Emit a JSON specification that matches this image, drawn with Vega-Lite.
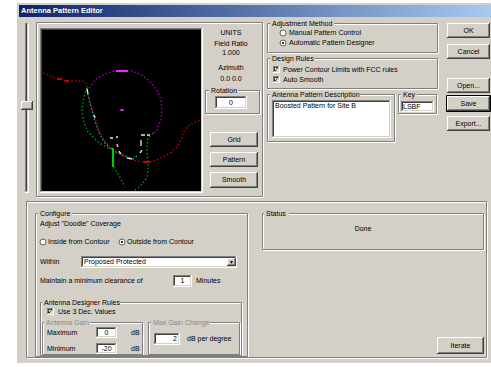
{
  "$schema": "https://vega.github.io/schema/vega-lite/v6.json",
  "width": 491,
  "height": 367,
  "autosize": {"type": "fit", "contains": "padding"},
  "padding": 0,
  "background": "#ffffff",
  "config": {"view": {"stroke": null}},
  "datasets": {
    "panes": [
      {"k": "window", "x": 17, "x2": 491, "y": 3, "y2": 363},
      {"k": "title", "x": 19, "x2": 491, "y": 5, "y2": 17},
      {"k": "lbg", "x": 209, "x2": 238, "y": 87, "y2": 94},
      {"k": "lbg", "x": 270, "x2": 334, "y": 20, "y2": 27},
      {"k": "lbg", "x": 270, "x2": 314, "y": 55, "y2": 62},
      {"k": "lbg", "x": 270, "x2": 360, "y": 91, "y2": 98},
      {"k": "lbg", "x": 401, "x2": 417, "y": 91, "y2": 98},
      {"k": "lbg", "x": 38, "x2": 72, "y": 210, "y2": 217},
      {"k": "lbg", "x": 42, "x2": 120, "y": 299, "y2": 306},
      {"k": "lbg", "x": 44, "x2": 90, "y": 319, "y2": 326},
      {"k": "lbg", "x": 151, "x2": 210, "y": 319, "y2": 326},
      {"k": "lbg", "x": 264, "x2": 289, "y": 210, "y2": 217}
    ],
    "frames": [
      {"x": 36.5, "x2": 262.5, "y": 22.5, "y2": 196.5},
      {"x": 205.5, "x2": 259.5, "y": 90.5, "y2": 113.5},
      {"x": 267.5, "x2": 437.5, "y": 23.5, "y2": 52.5},
      {"x": 267.5, "x2": 437.5, "y": 58.5, "y2": 88.5},
      {"x": 267.5, "x2": 394.5, "y": 94.5, "y2": 141.5},
      {"x": 398.5, "x2": 436.5, "y": 94.5, "y2": 113.5},
      {"x": 26.5, "x2": 486.5, "y": 201.5, "y2": 357.5},
      {"x": 35.5, "x2": 247.5, "y": 213.5, "y2": 356.5},
      {"x": 40.5, "x2": 241.5, "y": 302.5, "y2": 355.5},
      {"x": 42.5, "x2": 142.5, "y": 322.5, "y2": 354.5},
      {"x": 148.5, "x2": 239.5, "y": 322.5, "y2": 354.5},
      {"x": 262.5, "x2": 483.5, "y": 213.5, "y2": 249.5}
    ],
    "sunken": [
      {"k": "b", "x": 40, "x2": 203, "y": 28, "y2": 193},
      {"k": "w", "x": 215, "x2": 247, "y": 96, "y2": 109},
      {"k": "w", "x": 272, "x2": 391, "y": 100, "y2": 138},
      {"k": "w", "x": 401, "x2": 434, "y": 101, "y2": 112},
      {"k": "w", "x": 81, "x2": 237, "y": 256, "y2": 268},
      {"k": "w", "x": 173, "x2": 192, "y": 275, "y2": 287},
      {"k": "w", "x": 96, "x2": 117, "y": 327, "y2": 338},
      {"k": "w", "x": 96, "x2": 117, "y": 343, "y2": 354},
      {"k": "w", "x": 154, "x2": 180, "y": 333, "y2": 345},
      {"k": "w", "x": 273, "x2": 280, "y": 66, "y2": 73},
      {"k": "w", "x": 273, "x2": 280, "y": 76, "y2": 83},
      {"k": "w", "x": 47, "x2": 54, "y": 308, "y2": 315},
      {"k": "g", "x": 25, "x2": 29, "y": 23, "y2": 193}
    ],
    "raised": [
      {"x": 447, "x2": 490, "y": 23, "y2": 38},
      {"x": 447, "x2": 490, "y": 44, "y2": 59},
      {"x": 447, "x2": 490, "y": 78, "y2": 93},
      {"x": 447, "x2": 490, "y": 96, "y2": 111},
      {"x": 447, "x2": 490, "y": 116, "y2": 131},
      {"x": 210, "x2": 258, "y": 132, "y2": 147},
      {"x": 210, "x2": 258, "y": 152, "y2": 167},
      {"x": 210, "x2": 258, "y": 172, "y2": 188},
      {"x": 437, "x2": 484, "y": 337, "y2": 354},
      {"x": 227, "x2": 236, "y": 258, "y2": 266},
      {"x": 21, "x2": 33, "y": 101, "y2": 110}
    ],
    "focus": [
      {"x": 446.5, "x2": 490.5, "y": 95.5, "y2": 111.5}
    ],
    "radios": [
      {"x": 283, "y": 33, "s": 0},
      {"x": 283, "y": 43, "s": 1},
      {"x": 43, "y": 242, "s": 0},
      {"x": 122, "y": 242, "s": 1}
    ],
    "checks": [
      {"x": 276.5, "y": 69.5},
      {"x": 276.5, "y": 79.5},
      {"x": 50.5, "y": 311.5}
    ],
    "arrows": [
      {"x": 231.5, "y": 262.5}
    ],
    "texts": [
      {"t": "Antenna Pattern Editor", "x": 21, "y": 11, "a": "l", "k": "w"},
      {"t": "Rotation", "x": 211, "y": 90.5, "a": "l", "k": "n"},
      {"t": "Adjustment Method", "x": 272, "y": 23.5, "a": "l", "k": "n"},
      {"t": "Design Rules", "x": 272, "y": 58.5, "a": "l", "k": "n"},
      {"t": "Antenna Pattern Description", "x": 272, "y": 94.5, "a": "l", "k": "n"},
      {"t": "Key", "x": 403, "y": 94.5, "a": "l", "k": "n"},
      {"t": "Configure", "x": 40, "y": 213.5, "a": "l", "k": "n"},
      {"t": "Antenna Designer Rules", "x": 44, "y": 302.5, "a": "l", "k": "n"},
      {"t": "Antenna Gain", "x": 46, "y": 322.5, "a": "l", "k": "d"},
      {"t": "Max Gain Change", "x": 153, "y": 322.5, "a": "l", "k": "d"},
      {"t": "Status", "x": 266, "y": 213.5, "a": "l", "k": "n"},
      {"t": "Manual Pattern Control", "x": 289, "y": 33, "a": "l", "k": "n"},
      {"t": "Automatic Pattern Designer", "x": 289, "y": 43, "a": "l", "k": "n"},
      {"t": "Power Contour Limits with FCC rules", "x": 283, "y": 70, "a": "l", "k": "n"},
      {"t": "Auto Smooth", "x": 283, "y": 80, "a": "l", "k": "n"},
      {"t": "Boosted Pattern for Site B", "x": 275, "y": 106, "a": "l", "k": "n"},
      {"t": "LSBF", "x": 403, "y": 106.5, "a": "l", "k": "n"},
      {"t": "Adjust \"Doodle\" Coverage", "x": 40, "y": 224, "a": "l", "k": "n"},
      {"t": "Inside from Contour", "x": 48, "y": 242, "a": "l", "k": "n"},
      {"t": "Outside from Contour", "x": 127, "y": 242, "a": "l", "k": "n"},
      {"t": "Within", "x": 40, "y": 262, "a": "l", "k": "n"},
      {"t": "Proposed Protected", "x": 84, "y": 262, "a": "l", "k": "n"},
      {"t": "Maintain a minimum clearance of", "x": 40, "y": 281, "a": "l", "k": "n"},
      {"t": "Minutes", "x": 196, "y": 281, "a": "l", "k": "n"},
      {"t": "Use 3 Dec. Values", "x": 58, "y": 311.5, "a": "l", "k": "n"},
      {"t": "Maximum", "x": 47, "y": 333, "a": "l", "k": "n"},
      {"t": "dB", "x": 131, "y": 333, "a": "l", "k": "n"},
      {"t": "Minimum", "x": 47, "y": 349, "a": "l", "k": "n"},
      {"t": "dB", "x": 131, "y": 349, "a": "l", "k": "n"},
      {"t": "dB per degree", "x": 187, "y": 339, "a": "l", "k": "n"},
      {"t": "UNITS", "x": 231, "y": 33, "a": "c", "k": "n"},
      {"t": "Field Ratio", "x": 231, "y": 44, "a": "c", "k": "n"},
      {"t": "1.000", "x": 231, "y": 53, "a": "c", "k": "n"},
      {"t": "Azimuth", "x": 231, "y": 68, "a": "c", "k": "n"},
      {"t": "0.0     0.0", "x": 231, "y": 78.5, "a": "c", "k": "n"},
      {"t": "0", "x": 231, "y": 102.5, "a": "c", "k": "n"},
      {"t": "Grid", "x": 234, "y": 139.5, "a": "c", "k": "n"},
      {"t": "Pattern", "x": 234, "y": 159.5, "a": "c", "k": "n"},
      {"t": "Smooth", "x": 234, "y": 180, "a": "c", "k": "n"},
      {"t": "OK", "x": 468.5, "y": 30.5, "a": "c", "k": "n"},
      {"t": "Cancel", "x": 468.5, "y": 51.5, "a": "c", "k": "n"},
      {"t": "Open...", "x": 468.5, "y": 85.5, "a": "c", "k": "n"},
      {"t": "Save", "x": 468.5, "y": 103.5, "a": "c", "k": "n"},
      {"t": "Export...", "x": 468.5, "y": 123.5, "a": "c", "k": "n"},
      {"t": "1", "x": 182.5, "y": 281, "a": "c", "k": "n"},
      {"t": "0", "x": 106.5, "y": 332.5, "a": "c", "k": "n"},
      {"t": "-20", "x": 106.5, "y": 348.5, "a": "c", "k": "n"},
      {"t": "Done", "x": 363, "y": 229, "a": "c", "k": "n"},
      {"t": "Iterate", "x": 460.5, "y": 345.5, "a": "c", "k": "n"},
      {"t": "2", "x": 177, "y": 339, "a": "r", "k": "n"}
    ],
    "traces": [
      {"s": "m", "c": "m", "d": "dot", "o": 1, "x": 89, "y": 88},
      {"s": "m", "c": "m", "d": "dot", "o": 2, "x": 96, "y": 79},
      {"s": "m", "c": "m", "d": "dot", "o": 3, "x": 105, "y": 74},
      {"s": "m", "c": "m", "d": "dot", "o": 4, "x": 115, "y": 71},
      {"s": "m", "c": "m", "d": "dot", "o": 5, "x": 122, "y": 70},
      {"s": "m", "c": "m", "d": "dot", "o": 6, "x": 132, "y": 71},
      {"s": "m", "c": "m", "d": "dot", "o": 7, "x": 142, "y": 75},
      {"s": "m", "c": "m", "d": "dot", "o": 8, "x": 150, "y": 82},
      {"s": "m", "c": "m", "d": "dot", "o": 9, "x": 157, "y": 90},
      {"s": "m", "c": "m", "d": "dot", "o": 10, "x": 161, "y": 100},
      {"s": "m", "c": "m", "d": "dot", "o": 11, "x": 162, "y": 110},
      {"s": "m", "c": "m", "d": "dot", "o": 12, "x": 161, "y": 120},
      {"s": "m", "c": "m", "d": "dot", "o": 13, "x": 157, "y": 130},
      {"s": "m", "c": "m", "d": "dot", "o": 14, "x": 153, "y": 134},
      {"s": "r1", "c": "r", "d": "dot", "o": 1, "x": 43, "y": 73},
      {"s": "r1", "c": "r", "d": "dot", "o": 2, "x": 48, "y": 75},
      {"s": "r1", "c": "r", "d": "dot", "o": 3, "x": 53, "y": 77},
      {"s": "r1", "c": "r", "d": "dot", "o": 4, "x": 60, "y": 79},
      {"s": "r1", "c": "r", "d": "dot", "o": 5, "x": 67, "y": 81},
      {"s": "r1", "c": "r", "d": "dot", "o": 6, "x": 75, "y": 81},
      {"s": "r1", "c": "r", "d": "dot", "o": 7, "x": 83, "y": 81},
      {"s": "r1", "c": "r", "d": "dot", "o": 8, "x": 87, "y": 85},
      {"s": "r1", "c": "r", "d": "dot", "o": 9, "x": 87, "y": 88},
      {"s": "r2", "c": "r", "d": "dot", "o": 1, "x": 87, "y": 88},
      {"s": "r2", "c": "r", "d": "dot", "o": 2, "x": 89, "y": 98},
      {"s": "r2", "c": "r", "d": "dot", "o": 3, "x": 92, "y": 108},
      {"s": "r2", "c": "r", "d": "dot", "o": 4, "x": 95, "y": 118},
      {"s": "r2", "c": "r", "d": "dot", "o": 5, "x": 99, "y": 130},
      {"s": "r2", "c": "r", "d": "dot", "o": 6, "x": 104, "y": 140},
      {"s": "r2", "c": "r", "d": "dot", "o": 7, "x": 110, "y": 148},
      {"s": "r2", "c": "r", "d": "dot", "o": 8, "x": 117, "y": 152},
      {"s": "r2", "c": "r", "d": "dot", "o": 9, "x": 124, "y": 156},
      {"s": "r2", "c": "r", "d": "dot", "o": 10, "x": 133, "y": 160},
      {"s": "r2", "c": "r", "d": "dot", "o": 11, "x": 142, "y": 162},
      {"s": "r4", "c": "r", "d": "dot", "o": 1, "x": 150, "y": 162},
      {"s": "r4", "c": "r", "d": "dot", "o": 2, "x": 157, "y": 160},
      {"s": "r4", "c": "r", "d": "dot", "o": 3, "x": 163, "y": 157},
      {"s": "r4", "c": "r", "d": "dot", "o": 4, "x": 170, "y": 153},
      {"s": "r4", "c": "r", "d": "dot", "o": 5, "x": 177, "y": 147},
      {"s": "r4", "c": "r", "d": "dot", "o": 6, "x": 182, "y": 138},
      {"s": "r4", "c": "r", "d": "dot", "o": 7, "x": 183, "y": 133},
      {"s": "r4", "c": "r", "d": "dot", "o": 8, "x": 187, "y": 127},
      {"s": "r4", "c": "r", "d": "dot", "o": 9, "x": 193, "y": 123},
      {"s": "r4", "c": "r", "d": "dot", "o": 10, "x": 200, "y": 120},
      {"s": "cy", "c": "cy", "d": "dot", "o": 1, "x": 87, "y": 90},
      {"s": "cy", "c": "cy", "d": "dot", "o": 2, "x": 89, "y": 100},
      {"s": "cy", "c": "cy", "d": "dot", "o": 3, "x": 92, "y": 110},
      {"s": "cy", "c": "cy", "d": "dot", "o": 4, "x": 94, "y": 118},
      {"s": "cy", "c": "cy", "d": "dot", "o": 5, "x": 97, "y": 127},
      {"s": "cy", "c": "cy", "d": "dot", "o": 6, "x": 100, "y": 135},
      {"s": "cy", "c": "cy", "d": "dot", "o": 7, "x": 105, "y": 143},
      {"s": "cy", "c": "cy", "d": "dot", "o": 8, "x": 112, "y": 150},
      {"s": "cy", "c": "cy", "d": "dot", "o": 9, "x": 120, "y": 154},
      {"s": "cy", "c": "cy", "d": "dot", "o": 10, "x": 127, "y": 157},
      {"s": "cy", "c": "cy", "d": "dot", "o": 11, "x": 133, "y": 159},
      {"s": "cy", "c": "cy", "d": "dot", "o": 12, "x": 138, "y": 155},
      {"s": "g1", "c": "g", "d": "dot", "o": 1, "x": 87, "y": 88},
      {"s": "g1", "c": "g", "d": "dot", "o": 2, "x": 85, "y": 93},
      {"s": "g1", "c": "g", "d": "dot", "o": 3, "x": 83, "y": 102},
      {"s": "g1", "c": "g", "d": "dot", "o": 4, "x": 82, "y": 110},
      {"s": "g1", "c": "g", "d": "dot", "o": 5, "x": 83, "y": 118},
      {"s": "g1", "c": "g", "d": "dot", "o": 6, "x": 85, "y": 125},
      {"s": "g1", "c": "g", "d": "dot", "o": 7, "x": 88, "y": 132},
      {"s": "g1", "c": "g", "d": "dot", "o": 8, "x": 93, "y": 137},
      {"s": "g1", "c": "g", "d": "dot", "o": 9, "x": 98, "y": 142},
      {"s": "g1", "c": "g", "d": "dot", "o": 10, "x": 103, "y": 145},
      {"s": "g1", "c": "g", "d": "dot", "o": 11, "x": 108, "y": 148},
      {"s": "g1", "c": "g", "d": "dot", "o": 12, "x": 113, "y": 149},
      {"s": "g3", "c": "g", "d": "dot", "o": 1, "x": 114, "y": 167},
      {"s": "g3", "c": "g", "d": "dot", "o": 2, "x": 118, "y": 174},
      {"s": "g3", "c": "g", "d": "dot", "o": 3, "x": 123, "y": 183},
      {"s": "g3", "c": "g", "d": "dot", "o": 4, "x": 125, "y": 187},
      {"s": "g4", "c": "g", "d": "dot", "o": 1, "x": 153, "y": 133},
      {"s": "g4", "c": "g", "d": "dot", "o": 2, "x": 148, "y": 138},
      {"s": "g4", "c": "g", "d": "dot", "o": 3, "x": 147, "y": 147},
      {"s": "g4", "c": "g", "d": "dot", "o": 4, "x": 147, "y": 153},
      {"s": "g4", "c": "g", "d": "dot", "o": 5, "x": 148, "y": 162},
      {"s": "g4", "c": "g", "d": "dot", "o": 6, "x": 148, "y": 170},
      {"s": "g4", "c": "g", "d": "dot", "o": 7, "x": 147, "y": 177},
      {"s": "g4", "c": "g", "d": "dot", "o": 8, "x": 143, "y": 183},
      {"s": "g4", "c": "g", "d": "dot", "o": 9, "x": 138, "y": 188},
      {"s": "g4", "c": "g", "d": "dot", "o": 10, "x": 134, "y": 191},
      {"s": "w1", "c": "w", "d": "solid", "o": 1, "x": 110, "y": 138},
      {"s": "w1", "c": "w", "d": "solid", "o": 2, "x": 113, "y": 138},
      {"s": "w2", "c": "w", "d": "solid", "o": 1, "x": 116, "y": 137},
      {"s": "w2", "c": "w", "d": "solid", "o": 2, "x": 118, "y": 137},
      {"s": "w3", "c": "w", "d": "solid", "o": 1, "x": 117, "y": 144},
      {"s": "w3", "c": "w", "d": "solid", "o": 2, "x": 118, "y": 147},
      {"s": "w4", "c": "w", "d": "solid", "o": 1, "x": 119, "y": 151},
      {"s": "w4", "c": "w", "d": "solid", "o": 2, "x": 121, "y": 154},
      {"s": "w5", "c": "w", "d": "solid", "o": 1, "x": 127, "y": 158},
      {"s": "w5", "c": "w", "d": "solid", "o": 2, "x": 132, "y": 159},
      {"s": "w6", "c": "w", "d": "solid", "o": 1, "x": 140, "y": 153},
      {"s": "w6", "c": "w", "d": "solid", "o": 2, "x": 142, "y": 150},
      {"s": "w7", "c": "w", "d": "solid", "o": 1, "x": 141, "y": 140},
      {"s": "w7", "c": "w", "d": "solid", "o": 2, "x": 141, "y": 146},
      {"s": "w8", "c": "w", "d": "solid", "o": 1, "x": 141, "y": 135},
      {"s": "w8", "c": "w", "d": "solid", "o": 2, "x": 145, "y": 135},
      {"s": "w9", "c": "w", "d": "solid", "o": 1, "x": 147, "y": 135},
      {"s": "w9", "c": "w", "d": "solid", "o": 2, "x": 150, "y": 135},
      {"s": "w10", "c": "w", "d": "solid", "o": 1, "x": 87, "y": 89},
      {"s": "w10", "c": "w", "d": "solid", "o": 2, "x": 88, "y": 94},
      {"s": "w11", "c": "w", "d": "solid", "o": 1, "x": 94, "y": 115},
      {"s": "w11", "c": "w", "d": "solid", "o": 2, "x": 95, "y": 118},
      {"s": "b1", "c": "mb", "d": "bar", "o": 1, "x": 116, "y": 71},
      {"s": "b1", "c": "mb", "d": "bar", "o": 2, "x": 128, "y": 71},
      {"s": "b2", "c": "gb", "d": "bar", "o": 1, "x": 113, "y": 148},
      {"s": "b2", "c": "gb", "d": "bar", "o": 2, "x": 113, "y": 167},
      {"s": "b3", "c": "r", "d": "bar", "o": 1, "x": 143, "y": 162},
      {"s": "b3", "c": "r", "d": "bar", "o": 2, "x": 150, "y": 162},
      {"s": "b4", "c": "r", "d": "bar", "o": 1, "x": 57, "y": 79},
      {"s": "b4", "c": "r", "d": "bar", "o": 2, "x": 62, "y": 79},
      {"s": "b5", "c": "r", "d": "bar", "o": 1, "x": 65, "y": 81},
      {"s": "b5", "c": "r", "d": "bar", "o": 2, "x": 69, "y": 81},
      {"s": "b6", "c": "mb", "d": "bar", "o": 1, "x": 120.5, "y": 110},
      {"s": "b6", "c": "mb", "d": "bar", "o": 2, "x": 123.5, "y": 110}
    ]
  },
  "encoding": {
    "x": {"field": "x", "type": "quantitative", "scale": {"domain": [0, 491], "nice": false, "zero": false}, "axis": null},
    "y": {"field": "y", "type": "quantitative", "scale": {"domain": [0, 367], "nice": false, "zero": false, "reverse": true}, "axis": null}
  },
  "layer": [
    {
      "data": {"name": "panes"},
      "transform": [{"filter": "datum.k === 'window'"}],
      "mark": {"type": "rect", "fill": "#d4d0c8"},
      "encoding": {"x2": {"field": "x2"}, "y2": {"field": "y2"}}
    },
    {
      "data": {"name": "panes"},
      "transform": [{"filter": "datum.k === 'title'"}],
      "mark": {"type": "rect", "fill": {"gradient": "linear", "x1": 0, "y1": 0, "x2": 1, "y2": 0, "stops": [{"offset": 0, "color": "#0a246a"}, {"offset": 1, "color": "#a6caf0"}]}},
      "encoding": {"x2": {"field": "x2"}, "y2": {"field": "y2"}}
    },
    {
      "data": {"name": "frames"},
      "mark": {"type": "rect", "filled": false, "stroke": "#ffffff", "strokeWidth": 1, "xOffset": 1, "yOffset": 1, "x2Offset": 1, "y2Offset": 1},
      "encoding": {"x2": {"field": "x2"}, "y2": {"field": "y2"}}
    },
    {
      "data": {"name": "frames"},
      "mark": {"type": "rect", "filled": false, "stroke": "#808080", "strokeWidth": 1},
      "encoding": {"x2": {"field": "x2"}, "y2": {"field": "y2"}}
    },
    {
      "data": {"name": "panes"},
      "transform": [{"filter": "datum.k === 'lbg'"}],
      "mark": {"type": "rect", "fill": "#d4d0c8"},
      "encoding": {"x2": {"field": "x2"}, "y2": {"field": "y2"}}
    },
    {
      "data": {"name": "sunken"},
      "mark": {"type": "rect", "fill": "#ffffff"},
      "encoding": {"x2": {"field": "x2"}, "y2": {"field": "y2"}}
    },
    {
      "data": {"name": "sunken"},
      "mark": {"type": "rect", "fill": "#808080", "x2Offset": -1, "y2Offset": -1},
      "encoding": {"x2": {"field": "x2"}, "y2": {"field": "y2"}}
    },
    {
      "data": {"name": "sunken"},
      "mark": {"type": "rect", "fill": "#d4d0c8", "xOffset": 1, "yOffset": 1, "x2Offset": -1, "y2Offset": -1},
      "encoding": {"x2": {"field": "x2"}, "y2": {"field": "y2"}}
    },
    {
      "data": {"name": "sunken"},
      "mark": {"type": "rect", "fill": "#404040", "xOffset": 1, "yOffset": 1, "x2Offset": -2, "y2Offset": -2},
      "encoding": {"x2": {"field": "x2"}, "y2": {"field": "y2"}}
    },
    {
      "data": {"name": "sunken"},
      "mark": {"type": "rect", "xOffset": 2, "yOffset": 2, "x2Offset": -2, "y2Offset": -2},
      "encoding": {
        "x2": {"field": "x2"},
        "y2": {"field": "y2"},
        "fill": {"field": "k", "type": "nominal", "scale": {"domain": ["w", "b", "g"], "range": ["#ffffff", "#000000", "#d4d0c8"]}, "legend": null}
      }
    },
    {
      "data": {"name": "raised"},
      "mark": {"type": "rect", "fill": "#404040"},
      "encoding": {"x2": {"field": "x2"}, "y2": {"field": "y2"}}
    },
    {
      "data": {"name": "raised"},
      "mark": {"type": "rect", "fill": "#ffffff", "x2Offset": -1, "y2Offset": -1},
      "encoding": {"x2": {"field": "x2"}, "y2": {"field": "y2"}}
    },
    {
      "data": {"name": "raised"},
      "mark": {"type": "rect", "fill": "#808080", "xOffset": 1, "yOffset": 1, "x2Offset": -1, "y2Offset": -1},
      "encoding": {"x2": {"field": "x2"}, "y2": {"field": "y2"}}
    },
    {
      "data": {"name": "raised"},
      "mark": {"type": "rect", "fill": "#d4d0c8", "xOffset": 1, "yOffset": 1, "x2Offset": -2, "y2Offset": -2},
      "encoding": {"x2": {"field": "x2"}, "y2": {"field": "y2"}}
    },
    {
      "data": {"name": "focus"},
      "mark": {"type": "rect", "filled": false, "stroke": "#000000", "strokeWidth": 1},
      "encoding": {"x2": {"field": "x2"}, "y2": {"field": "y2"}}
    },
    {
      "data": {"name": "radios"},
      "mark": {"type": "point", "shape": "circle", "size": 36, "filled": true, "fill": "#ffffff", "stroke": "#606060", "strokeWidth": 1, "opacity": 1}
    },
    {
      "data": {"name": "radios"},
      "transform": [{"filter": "datum.s === 1"}],
      "mark": {"type": "point", "shape": "circle", "size": 5, "filled": true, "fill": "#000000", "stroke": null, "opacity": 1}
    },
    {
      "data": {"name": "checks"},
      "mark": {"type": "text", "text": "✓", "font": "DejaVu Sans", "fontSize": 7, "fontWeight": "bold", "align": "center", "baseline": "middle", "color": "#000000"}
    },
    {
      "data": {"name": "arrows"},
      "mark": {"type": "point", "shape": "triangle-down", "size": 10, "filled": true, "fill": "#000000", "stroke": null, "opacity": 1}
    },
    {
      "data": {"name": "traces"},
      "transform": [{"filter": "datum.d !== 'bar'"}],
      "mark": {"type": "line", "strokeWidth": 1.3, "interpolate": "linear"},
      "encoding": {
        "detail": {"field": "s", "type": "nominal"},
        "order": {"field": "o", "type": "quantitative"},
        "color": {"field": "c", "type": "nominal", "scale": {"domain": ["m", "mb", "cy", "g", "gb", "r", "w"], "range": ["#b000b8", "#ff20ff", "#00b8c0", "#00a800", "#00d000", "#c80000", "#e8e8e8"]}, "legend": null},
        "strokeDash": {"field": "d", "type": "nominal", "scale": {"domain": ["dot", "solid"], "range": [[1.5, 2.2], [1, 0]]}, "legend": null}
      }
    },
    {
      "data": {"name": "traces"},
      "transform": [{"filter": "datum.d === 'bar'"}],
      "mark": {"type": "line", "strokeWidth": 2, "interpolate": "linear"},
      "encoding": {
        "detail": {"field": "s", "type": "nominal"},
        "order": {"field": "o", "type": "quantitative"},
        "color": {"field": "c", "type": "nominal", "scale": {"domain": ["m", "mb", "cy", "g", "gb", "r", "w"], "range": ["#b000b8", "#ff20ff", "#00b8c0", "#00a800", "#00d000", "#c80000", "#e8e8e8"]}, "legend": null}
      }
    },
    {
      "data": {"name": "texts"},
      "transform": [{"filter": "datum.k === 'w'"}],
      "mark": {"type": "text", "align": "left", "baseline": "middle", "font": "Liberation Sans", "fontSize": 7.5, "fontWeight": "bold", "color": "#ffffff"},
      "encoding": {"text": {"field": "t", "type": "nominal"}}
    },
    {
      "data": {"name": "texts"},
      "transform": [{"filter": "datum.k !== 'w' && datum.a === 'l'"}],
      "mark": {"type": "text", "align": "left", "baseline": "middle", "font": "Liberation Sans", "fontSize": 7},
      "encoding": {
        "text": {"field": "t", "type": "nominal"},
        "color": {"field": "k", "type": "nominal", "scale": {"domain": ["n", "d"], "range": ["#000000", "#8a8a8a"]}, "legend": null}
      }
    },
    {
      "data": {"name": "texts"},
      "transform": [{"filter": "datum.k !== 'w' && datum.a === 'c'"}],
      "mark": {"type": "text", "align": "center", "baseline": "middle", "font": "Liberation Sans", "fontSize": 7},
      "encoding": {
        "text": {"field": "t", "type": "nominal"},
        "color": {"field": "k", "type": "nominal", "scale": {"domain": ["n", "d"], "range": ["#000000", "#8a8a8a"]}, "legend": null}
      }
    },
    {
      "data": {"name": "texts"},
      "transform": [{"filter": "datum.k !== 'w' && datum.a === 'r'"}],
      "mark": {"type": "text", "align": "right", "baseline": "middle", "font": "Liberation Sans", "fontSize": 7},
      "encoding": {
        "text": {"field": "t", "type": "nominal"},
        "color": {"field": "k", "type": "nominal", "scale": {"domain": ["n", "d"], "range": ["#000000", "#8a8a8a"]}, "legend": null}
      }
    }
  ],
  "resolve": {"scale": {"color": "independent", "fill": "independent", "strokeDash": "independent"}}
}
